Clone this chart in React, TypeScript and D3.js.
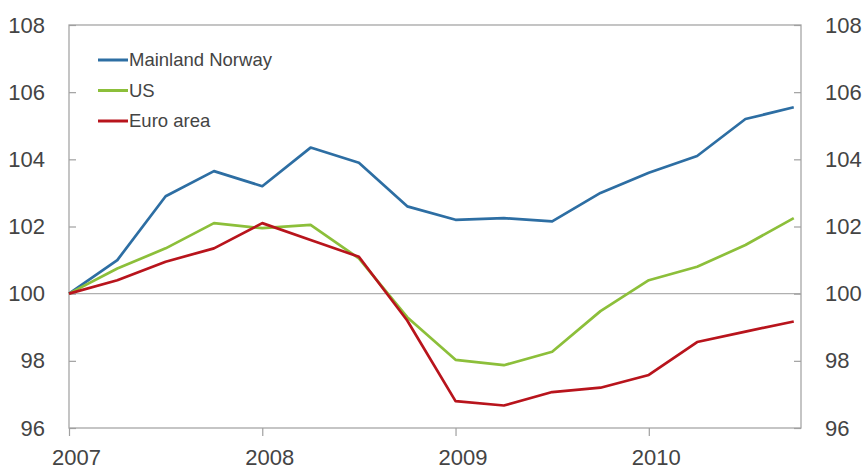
import React, {useEffect, useRef} from 'react'
import * as d3 from 'd3'

// quarterly index, 2007 Q1 = 0
const quarters = d3.range(16)
const yearTicks = [0, 4, 8, 12]
const yearLabels = ['2007', '2008', '2009', '2010']
const valueTicks = [96, 98, 100, 102, 104, 106, 108]

const norway = [100, 101.0, 102.9, 103.65, 103.2, 104.35, 103.9, 102.6, 102.2, 102.25, 102.15, 103.0, 103.6, 104.1, 105.2, 105.55]
const us = [100, 100.75, 101.35, 102.1, 101.95, 102.05, 101.05, 99.3, 98.03, 97.87, 98.27, 99.48, 100.4, 100.8, 101.45, 102.25]
const euro = [100, 100.4, 100.95, 101.35, 102.1, 101.6, 101.1, 99.2, 96.8, 96.67, 97.07, 97.2, 97.58, 98.56, 98.87, 99.17]

const series = [
  {name: 'Mainland Norway', values: norway, color: '#2d6ea3'},
  {name: 'US', values: us, color: '#8cbf3a'},
  {name: 'Euro area', values: euro, color: '#b8141c'},
]

const width = 864
const height = 470
const margin = {top: 25, right: 63, bottom: 42, left: 69}

const App = () => {
  const ref = useRef(null)

  const x = d3
    .scaleLinear()
    .domain([0, 15.15])
    .range([margin.left, width - margin.right])
  const y = d3
    .scaleLinear()
    .domain([96, 108])
    .range([height - margin.bottom, margin.top])

  const line = d3
    .line()
    .x((d, i) => x(quarters[i]))
    .y((d) => y(d))

  //axes drawn with d3 into the <g>
  useEffect(() => {
    const g = d3.select(ref.current)
    g.selectAll('*').remove()

    const font = (sel) =>
      sel
        .selectAll('text')
        .attr('fill', '#444')
        .style('font-family', 'Liberation Sans, Arial, sans-serif')
        .style('font-size', '22px')

    const left = g
      .append('g')
      .attr('transform', `translate(${margin.left},0)`)
      .call(d3.axisRight(y).tickValues(valueTicks).tickSize(7))
    left.call(font)
    left.selectAll('text').attr('text-anchor', 'end').attr('x', -24)

    const right = g
      .append('g')
      .attr('transform', `translate(${width - margin.right},0)`)
      .call(d3.axisLeft(y).tickValues(valueTicks).tickSize(7))
    right.call(font)
    right.selectAll('text').attr('text-anchor', 'start').attr('x', 24)

    const bottom = g
      .append('g')
      .attr('transform', `translate(0,${height - margin.bottom})`)
      .call(
        d3
          .axisBottom(x)
          .tickValues(yearTicks)
          .tickFormat((d, i) => yearLabels[i])
          .tickSize(8)
          .tickPadding(13)
      )
    bottom.call(font)
    bottom.selectAll('text').attr('dx', 7)

    g.selectAll('.domain').remove()
    g.selectAll('.tick line').attr('stroke', '#a0a0a0').attr('stroke-width', 1.2)
  }, [])

  const legendY = d3.scalePoint().domain(series.map((s) => s.name)).range([60, 121])

  return (
    <svg width={width} height={height} style={{display: 'block', position: 'absolute', left: 0, top: 0}}>
      <rect width={width} height={height} fill="white" />
      {/* frame and the 100 line */}
      <rect
        x={margin.left}
        y={margin.top}
        width={width - margin.right - margin.left}
        height={height - margin.bottom - margin.top}
        fill="none"
        stroke="#a6a6a6"
        strokeWidth={1.3}
      />
      <line x1={margin.left} x2={width - margin.right} y1={y(100)} y2={y(100)} stroke="#b0b0b0" strokeWidth={1.3} />
      <g ref={ref} />
      {series.map((s) => (
        <path
          key={s.name}
          d={line(s.values)}
          fill="none"
          stroke={s.color}
          strokeWidth={2.7}
          strokeLinejoin="round"
        />
      ))}
      {series.map((s) => (
        <g key={s.name} transform={`translate(98,${legendY(s.name)})`}>
          <line x1={0} x2={30} stroke={s.color} strokeWidth={3} />
          <text
            x={31}
            dy="0.35em"
            fill="#444"
            style={{fontFamily: 'Liberation Sans, Arial, sans-serif', fontSize: 18.5}}
          >
            {s.name}
          </text>
        </g>
      ))}
    </svg>
  )
}

export default App
